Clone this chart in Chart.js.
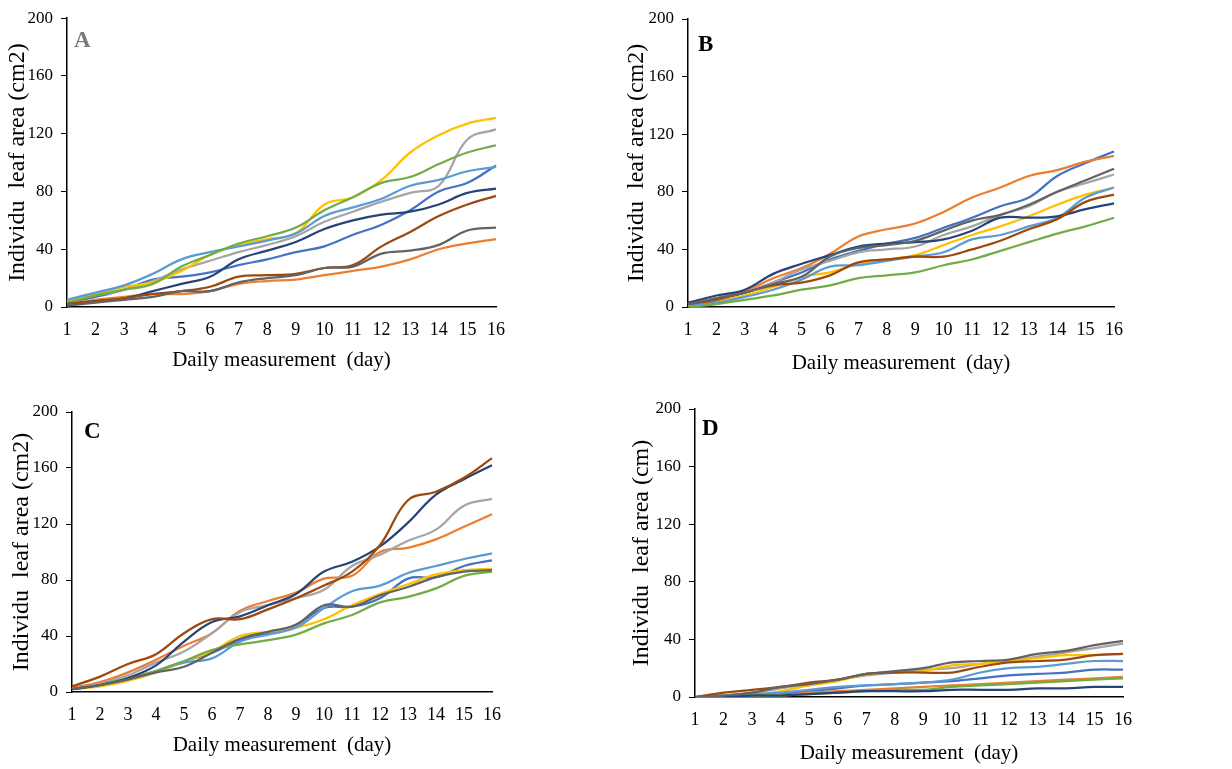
<!DOCTYPE html>
<html>
<head>
<meta charset="utf-8">
<script src="https://cdn.jsdelivr.net/npm/chart.js@4"></script>
<style>
  body { margin: 0; background: #fff; }
  #page { position: relative; width: 1232px; height: 769px; }
  .panel { position: absolute; }
  .lettre { position: absolute; font-family: 'Liberation Serif', 'Times New Roman', serif; font-weight: bold; font-size: 23px; line-height: 1; }
</style>
</head>
<body>
<div id="page">
  <canvas id="chartA" class="panel" width="616" height="385" style="left:0;top:0"></canvas>
  <canvas id="chartB" class="panel" width="616" height="385" style="left:616px;top:0"></canvas>
  <canvas id="chartC" class="panel" width="616" height="384" style="left:0;top:385px"></canvas>
  <canvas id="chartD" class="panel" width="616" height="384" style="left:616px;top:385px"></canvas>
  <div class="lettre" style="left:74px;top:28px;color:#7a7a7a">A</div>
  <div class="lettre" style="left:698px;top:32px">B</div>
  <div class="lettre" style="left:84px;top:419px">C</div>
  <div class="lettre" style="left:702px;top:416px">D</div>
</div>
<script>
var jours = ['1', '2', '3', '4', '5', '6', '7', '8', '9', '10', '11', '12', '13', '14', '15', '16'];
var yTicks = [0, 40, 80, 120, 160, 200];

// palette Excel, dans l'ordre des séries
var couleurs = ['#4472C4', '#ED7D31', '#A5A5A5', '#FFC000', '#5B9BD5', '#70AD47', '#264478', '#9E480E', '#636363'];

// Graphique A
var a1 = [3, 7, 12, 19, 21, 24, 29, 33, 38, 42, 50, 57, 67, 80, 86, 98];
var a2 = [2, 5, 7, 9, 9, 11, 16, 18, 19, 22, 25, 28, 33, 40, 44, 47];
var a3 = [4, 8, 12, 18, 26, 32, 38, 43, 49, 59, 66, 73, 79, 84, 116, 123];
var a4 = [4, 9, 14, 17, 25, 36, 43, 47, 51, 71, 76, 88, 107, 119, 127, 131];
var a5 = [5, 10, 15, 23, 33, 38, 42, 46, 51, 63, 69, 75, 84, 88, 94, 97];
var a6 = [3, 8, 12, 16, 28, 36, 44, 49, 55, 67, 76, 86, 90, 99, 107, 112];
var a7 = [2, 4, 6, 11, 16, 21, 33, 39, 45, 54, 60, 64, 66, 71, 79, 82];
var a8 = [2, 4, 6, 9, 11, 14, 21, 22, 23, 27, 29, 42, 52, 63, 71, 77];
var a9 = [1, 3, 5, 7, 11, 11, 17, 20, 22, 27, 28, 37, 39, 43, 53, 55];

// Graphique B
var b1 = [2, 6, 10, 17, 24, 33, 39, 44, 48, 55, 62, 70, 76, 91, 100, 108];
var b2 = [2, 6, 11, 20, 27, 37, 49, 54, 58, 66, 76, 83, 91, 95, 101, 105];
var b3 = [2, 6, 10, 17, 26, 32, 38, 40, 42, 50, 56, 64, 70, 80, 86, 92];
var b4 = [1, 4, 8, 14, 21, 24, 30, 33, 36, 43, 50, 56, 63, 71, 78, 83];
var b5 = [1, 3, 7, 12, 19, 28, 29, 32, 35, 38, 47, 50, 56, 62, 76, 83];
var b6 = [0, 2, 5, 8, 12, 15, 20, 22, 24, 29, 33, 39, 45, 51, 56, 62];
var b7 = [3, 8, 12, 23, 30, 36, 42, 44, 45, 47, 53, 62, 62, 63, 68, 72];
var b8 = [2, 5, 10, 15, 17, 22, 31, 33, 35, 35, 40, 46, 54, 61, 73, 78];
var b9 = [2, 6, 10, 16, 21, 35, 41, 43, 46, 53, 60, 64, 71, 80, 88, 96];

// Graphique C
var c1 = [2, 5, 9, 15, 22, 28, 37, 42, 48, 60, 61, 67, 81, 82, 90, 94];
var c2 = [3, 7, 14, 23, 33, 42, 58, 65, 71, 81, 83, 100, 103, 109, 118, 127];
var c3 = [2, 6, 12, 21, 29, 42, 57, 62, 67, 73, 90, 98, 108, 116, 133, 138];
var c4 = [2, 4, 8, 14, 22, 29, 40, 43, 46, 52, 62, 70, 77, 84, 87, 88];
var c5 = [2, 5, 9, 15, 21, 24, 36, 41, 46, 60, 72, 76, 85, 90, 95, 99];
var c6 = [2, 5, 10, 15, 22, 30, 34, 37, 41, 49, 55, 64, 68, 74, 83, 86];
var c7 = [2, 5, 10, 19, 36, 50, 54, 62, 70, 86, 93, 104, 121, 141, 152, 162];
var c8 = [4, 11, 20, 27, 42, 52, 52, 59, 67, 76, 86, 105, 137, 143, 153, 167];
var c9 = [2, 5, 9, 14, 18, 28, 38, 43, 48, 62, 61, 69, 75, 82, 86, 87];

// Graphique D
var d1 = [0, 1, 1, 2, 4, 6, 8, 9, 10, 11, 13, 15, 16, 17, 19, 19];
var d2 = [0, 0, 1, 1, 3, 4, 5, 6, 7, 8, 9, 10, 11, 12, 13, 14];
var d3 = [0, 1, 3, 6, 9, 12, 15, 17, 19, 20, 23, 25, 28, 31, 34, 37];
var d4 = [0, 1, 2, 4, 8, 11, 16, 17, 18, 22, 23, 25, 27, 29, 29, 30];
var d5 = [0, 1, 2, 3, 5, 7, 8, 9, 10, 12, 17, 20, 21, 23, 25, 25];
var d6 = [0, 0, 1, 1, 2, 3, 4, 5, 5, 7, 8, 9, 10, 11, 12, 13];
var d7 = [0, 0, 1, 1, 2, 3, 4, 4, 4, 5, 5, 5, 6, 6, 7, 7];
var d8 = [0, 3, 5, 7, 10, 12, 16, 17, 17, 17, 21, 24, 25, 26, 29, 30];
var d9 = [0, 1, 3, 7, 9, 12, 16, 18, 20, 24, 25, 26, 30, 32, 36, 39];

Chart.defaults.font.family = "'Liberation Serif', 'Times New Roman', serif";
Chart.defaults.color = '#000';

// zone = bord du tracé dans le canvas ; titreX / titreY = marges des titres d'axes
function graphique(id, series, titreAxeY, zone) {
  var canvas = document.getElementById(id);
  var W = canvas.width, H = canvas.height;

  var datasets = series.map(function(s, i) {
    return {
      label: 'Série ' + (i + 1),
      data: s,
      borderColor: couleurs[i],
      backgroundColor: couleurs[i],
      borderWidth: 2.25,
      pointRadius: 0,
      tension: 0.4,
      fill: false,
      order: 10 - i
    };
  });

  new Chart(canvas, {
    type: 'line',
    data: { labels: jours, datasets: datasets },
    options: {
      responsive: false,
      animation: false,
      layout: { padding: { top: zone.haut, right: W - zone.droite, bottom: 0, left: 0 } },
      plugins: { legend: { display: false }, tooltip: { enabled: false } },
      scales: {
        x: {
          type: 'category',
          offset: false,
          grid: { display: false, drawTicks: false },
          border: { display: true, color: '#000', width: 1.5 },
          ticks: { font: { size: 18 }, padding: 12, autoSkip: false, maxRotation: 0 },
          title: {
            display: true,
            text: 'Daily measurement  (day)',
            font: { size: 21 },
            padding: { top: 4, bottom: zone.titreX }
          },
          afterFit: function(scale) { scale.height = H - zone.bas; }
        },
        y: {
          min: 0,
          max: 200,
          afterBuildTicks: function(scale) {
            scale.ticks = yTicks.map(function(v) { return { value: v }; });
          },
          grid: { drawOnChartArea: false, drawTicks: true, tickLength: 6, color: '#000', lineWidth: 1 },
          border: { display: true, color: '#000', width: 1.5 },
          ticks: { font: { size: 17 }, padding: 8 },
          title: {
            display: true,
            text: titreAxeY,
            font: { size: 24 },
            padding: { top: zone.titreY, bottom: 4 }
          },
          afterFit: function(scale) { scale.width = zone.gauche; }
        }
      }
    }
  });
}

graphique('chartA', [a1, a2, a3, a4, a5, a6, a7, a8, a9], 'Individu  leaf area (cm2)',
  { gauche: 67, haut: 17, droite: 496, bas: 307, titreX: 12, titreY: 3 });
graphique('chartB', [b1, b2, b3, b4, b5, b6, b7, b8, b9], 'Individu  leaf area (cm2)',
  { gauche: 72, haut: 19, droite: 498, bas: 307, titreX: 9, titreY: 6 });
graphique('chartC', [c1, c2, c3, c4, c5, c6, c7, c8, c9], 'Individu  leaf area (cm2)',
  { gauche: 72, haut: 27, droite: 492, bas: 307, titreX: 11, titreY: 7 });
graphique('chartD', [d1, d2, d3, d4, d5, d6, d7, d8, d9], 'Individu  leaf area (cm)',
  { gauche: 79, haut: 24, droite: 507, bas: 312, titreX: 3, titreY: 11 });
</script>
</body>
</html>
